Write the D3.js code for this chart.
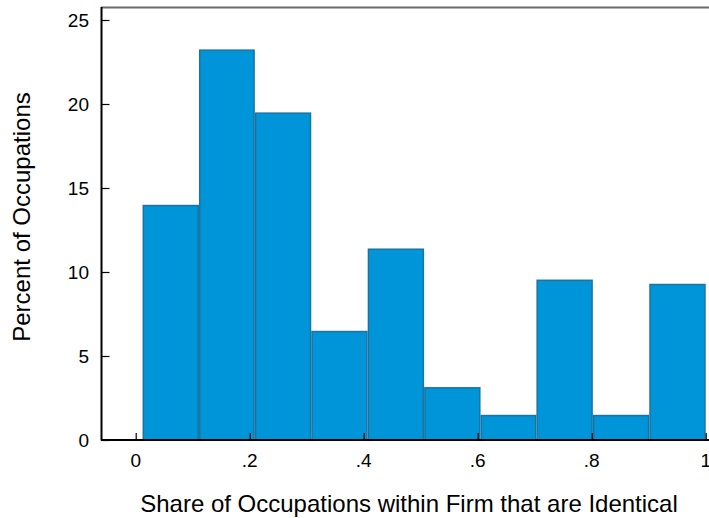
<!DOCTYPE html>
<html>
<head>
<meta charset="utf-8">
<script src="https://cdn.jsdelivr.net/npm/d3@7"></script>
<style>
  body { margin: 0; background: #fff; }
  text { font-family: "Liberation Sans", Arial, sans-serif; fill: #000; }
</style>
</head>
<body>
<div id="chart"></div>
<script>
const width = 709, height = 518;

// histogram bins (left edges), last edge closes the final bin
const binStarts = [0.012, 0.111, 0.209, 0.308, 0.407, 0.506, 0.605, 0.703, 0.802, 0.901];
const binEnd = 1.0;
const percents = [14.0, 23.25, 19.5, 6.5, 11.4, 3.15, 1.5, 9.55, 1.5, 9.3];

const xTicks = [0, 0.2, 0.4, 0.6, 0.8, 1];
const xTickLabels = ["0", ".2", ".4", ".6", ".8", "1"];
const yTicks = [0, 5, 10, 15, 20, 25];

const svg = d3.select("#chart")
	.append("svg")
	.attr("width", width)
	.attr("height", height);

const x = d3.scaleLinear()
	.domain([0, 1])
	.range([135.7, 705.7]);

const y = d3.scaleLinear()
	.domain([0, 25])
	.range([440, 20]);

const bins = binStarts.map((s, i) => ({
	x0: s,
	x1: i < binStarts.length - 1 ? binStarts[i + 1] : binEnd,
	v: percents[i]
}));

// bars
svg.append("g")
	.selectAll("rect")
	.data(bins)
	.enter()
	.append("rect")
	.attr("x", d => x(d.x0) + 0.75)
	.attr("y", d => y(d.v) + 0.75)
	.attr("width", d => x(d.x1) - x(d.x0) - 1.5)
	.attr("height", d => y(0) - y(d.v) - 0.75)
	.attr("fill", "#0095d8")
	.attr("stroke", "#1a74a2")
	.attr("stroke-width", 1.5);

// top frame line
svg.append("line")
	.attr("x1", 101).attr("x2", 709)
	.attr("y1", 7.5).attr("y2", 7.5)
	.attr("stroke", "#6b6b6b")
	.attr("stroke-width", 2);

// y axis (ticks point inward)
const yAxis = svg.append("g")
	.attr("transform", "translate(101.5,0)")
	.call(d3.axisRight(y).tickValues(yTicks).tickSize(8).tickFormat(""));
yAxis.select(".domain").remove();
yAxis.selectAll(".tick line").attr("stroke", "#000").attr("stroke-width", 1.2);
svg.append("line")
	.attr("x1", 101.5).attr("x2", 101.5)
	.attr("y1", 7).attr("y2", 440.5)
	.attr("stroke", "#000")
	.attr("stroke-width", 2);

svg.append("g")
	.selectAll("text")
	.data(yTicks)
	.enter()
	.append("text")
	.attr("x", 89)
	.attr("y", d => y(d) + 7)
	.attr("text-anchor", "end")
	.attr("font-size", 19)
	.text(d => d);

// x axis (ticks point up)
const xAxis = svg.append("g")
	.attr("transform", "translate(0,440)")
	.call(d3.axisTop(x).tickValues(xTicks).tickSize(7).tickFormat(""));
xAxis.select(".domain").remove();
xAxis.selectAll(".tick line").attr("stroke", "#000").attr("stroke-width", 1.2);
svg.append("line")
	.attr("x1", 101).attr("x2", 709)
	.attr("y1", 440).attr("y2", 440)
	.attr("stroke", "#000")
	.attr("stroke-width", 2);

svg.append("g")
	.selectAll("text")
	.data(xTicks)
	.enter()
	.append("text")
	.attr("x", d => x(d))
	.attr("y", 467)
	.attr("text-anchor", "middle")
	.attr("font-size", 19)
	.text((d, i) => xTickLabels[i]);

// axis titles
svg.append("text")
	.attr("x", 409)
	.attr("y", 512)
	.attr("text-anchor", "middle")
	.attr("font-size", 24)
	.text("Share of Occupations within Firm that are Identical");

svg.append("text")
	.attr("transform", "translate(30,217) rotate(-90)")
	.attr("text-anchor", "middle")
	.attr("font-size", 24)
	.text("Percent of Occupations");
</script>
</body>
</html>
